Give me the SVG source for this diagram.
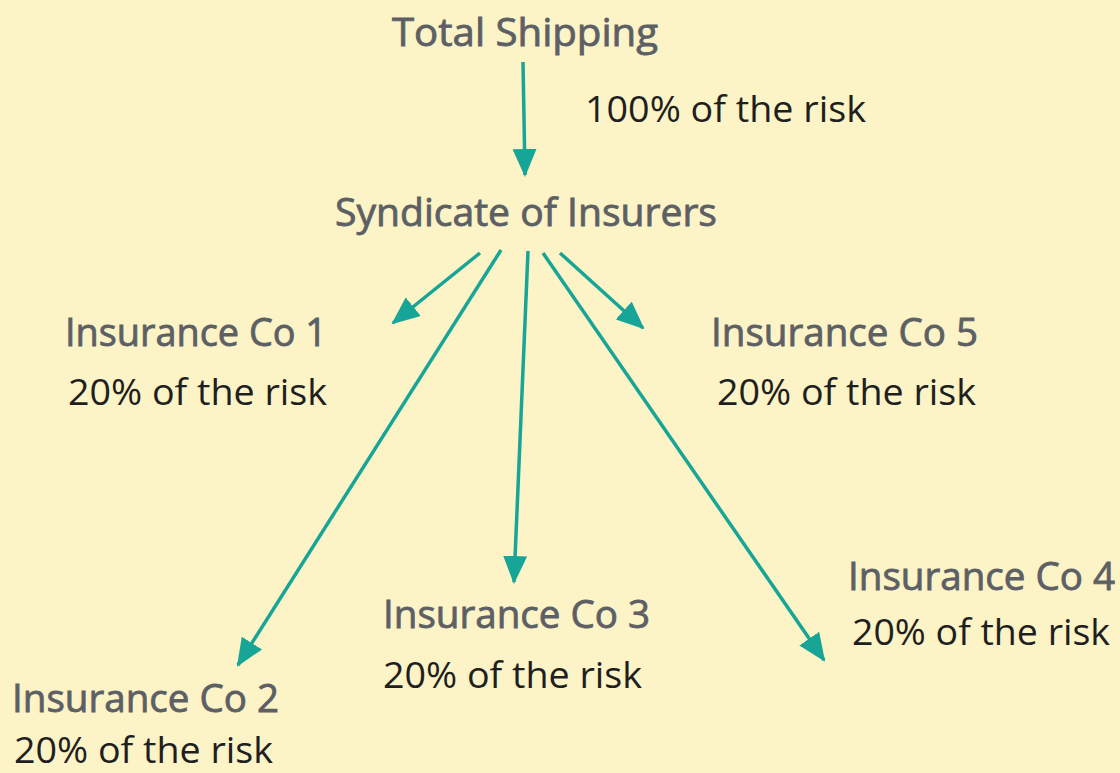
<svg xmlns="http://www.w3.org/2000/svg" width="1120" height="773" viewBox="0 0 1120 773">
<style>
.t{font-family:"Open Sans","Noto Sans",sans-serif;font-size:38px;font-weight:400;fill:#5c6065;stroke:#5c6065;stroke-width:0.8px}
.r{font-family:"Open Sans","Noto Sans",sans-serif;font-size:37px;font-weight:400;fill:#1f1f1f}
.c{stroke:#17a597;stroke-width:3.5;fill:none;marker-end:url(#ah)}
</style>
<defs>
<marker id="ah" markerUnits="userSpaceOnUse" viewBox="0 0 28 24" refX="26" refY="12" markerWidth="28" markerHeight="24" orient="auto">
<path d="M0,0 L28,12 L0,24 z" fill="#17a597"/>
</marker>
</defs>
<rect width="1120" height="773" fill="#fcf3c6"/>
<g id="connectors">
<line class="c" x1="523" y1="62" x2="525" y2="175"/>
<line class="c" x1="480" y1="253" x2="393" y2="323"/>
<line class="c" x1="501" y1="250" x2="238" y2="665"/>
<line class="c" x1="528" y1="251" x2="514" y2="582"/>
<line class="c" x1="543" y1="253" x2="824" y2="660"/>
<line class="c" x1="560" y1="253" x2="643" y2="328"/>
</g>
<g id="total"><text class="t" x="392" y="46" textLength="266" lengthAdjust="spacingAndGlyphs">Total Shipping</text>
<text class="r" x="585" y="122" textLength="281" lengthAdjust="spacingAndGlyphs">100% of the risk</text></g>
<g id="syndicate"><text class="t" x="335" y="226" textLength="382" lengthAdjust="spacingAndGlyphs">Syndicate of Insurers</text></g>
<g id="co1"><text class="t" x="65" y="346" textLength="262" lengthAdjust="spacingAndGlyphs">Insurance Co 1</text>
<text class="r" x="68" y="405" textLength="259" lengthAdjust="spacingAndGlyphs">20% of the risk</text></g>
<g id="co5"><text class="t" x="711" y="346" textLength="267" lengthAdjust="spacingAndGlyphs">Insurance Co 5</text>
<text class="r" x="717" y="405" textLength="259" lengthAdjust="spacingAndGlyphs">20% of the risk</text></g>
<g id="co3"><text class="t" x="383" y="628" textLength="267" lengthAdjust="spacingAndGlyphs">Insurance Co 3</text>
<text class="r" x="383" y="688" textLength="259" lengthAdjust="spacingAndGlyphs">20% of the risk</text></g>
<g id="co4"><text class="t" x="848" y="590" textLength="267" lengthAdjust="spacingAndGlyphs">Insurance Co 4</text>
<text class="r" x="852" y="645" textLength="258" lengthAdjust="spacingAndGlyphs">20% of the risk</text></g>
<g id="co2"><text class="t" x="12" y="712" textLength="267" lengthAdjust="spacingAndGlyphs">Insurance Co 2</text>
<text class="r" x="14" y="763" textLength="259" lengthAdjust="spacingAndGlyphs">20% of the risk</text></g>
</svg>
